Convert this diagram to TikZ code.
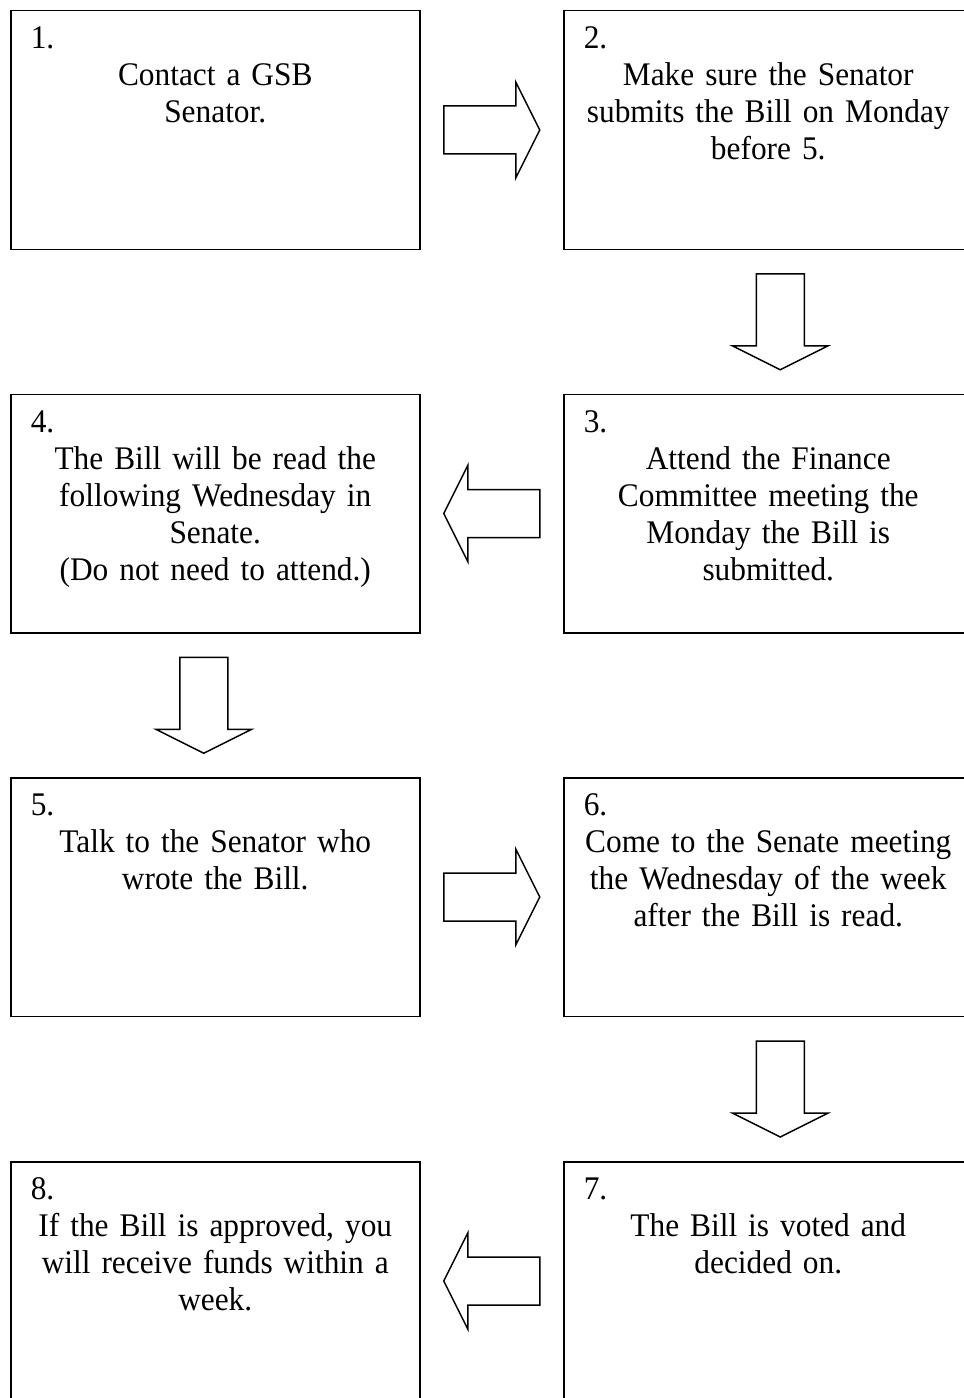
\documentclass[tikz,border=0pt]{standalone}
\usepackage{fontspec}
\setmainfont[FakeStretch=0.95, WordSpace=0.8]{Liberation Serif}
\usetikzlibrary{calc}
\newcommand{\stepnum}[1]{\makebox[\hsize][l]{#1}}

\begin{document}
\begin{tikzpicture}[
        x=0.4pt, y=-0.4pt,
        stepbox/.style={draw, line width=0.6pt, anchor=north west, inner xsep=8pt, inner ysep=0pt,
            text width=147.6pt, text height=15.2pt, text depth=80.2pt, align=center,
            font=\fontsize{13.2}{14.8}\selectfont},
        blockarrow/.style={draw, line width=0.6pt, line join=miter}
    ]
        \useasboundingbox (0,0) rectangle (963,1398);

        % Row 1
        \node[stepbox] (b1) at (10,10) {\stepnum{1.}\\Contact a GSB\\Senator.};
        \node[stepbox] (b2) at (563,10) {\stepnum{2.}\\Make sure the Senator\\submits the Bill on Monday\\before 5.};

        % Row 2
        \node[stepbox] (b3) at (563,393.5) {\stepnum{3.}\\Attend the Finance\\Committee meeting the\\Monday the Bill is\\submitted.};
        \node[stepbox] (b4) at (10,393.5) {\stepnum{4.}\\The Bill will be read the\\following Wednesday in\\Senate.\\(Do not need to attend.)};

        % Row 3
        \node[stepbox] (b5) at (10,777) {\stepnum{5.}\\Talk to the Senator who\\wrote the Bill.};
        \node[stepbox] (b6) at (563,777) {\stepnum{6.}\\Come to the Senate meeting\\the Wednesday of the week\\after the Bill is read.};

        % Row 4
        \node[stepbox] (b7) at (563,1161) {\stepnum{7.}\\The Bill is voted and\\decided on.};
        \node[stepbox] (b8) at (10,1161) {\stepnum{8.}\\If the Bill is approved, you\\will receive funds within a\\week.};

        % Block arrows between the steps
        \foreach \src/\dst/\ang/\dx in {b1.east/b2.west/0/0, b2.south/b3.north/-90/12,
                b3.west/b4.east/180/0, b4.south/b5.north/-90/-11.5, b5.east/b6.west/0/0,
                b6.south/b7.north/-90/12, b7.west/b8.east/180/0} {
            \draw[blockarrow, shift={($(\src)!0.5!(\dst)$)}, shift={(\dx,0)}, rotate=\ang]
                (-48,-24) -- (24,-24) -- (24,-48) -- (48,0) -- (24,48) -- (24,24) -- (-48,24) -- cycle;
        }
    \end{tikzpicture}
\end{document}
